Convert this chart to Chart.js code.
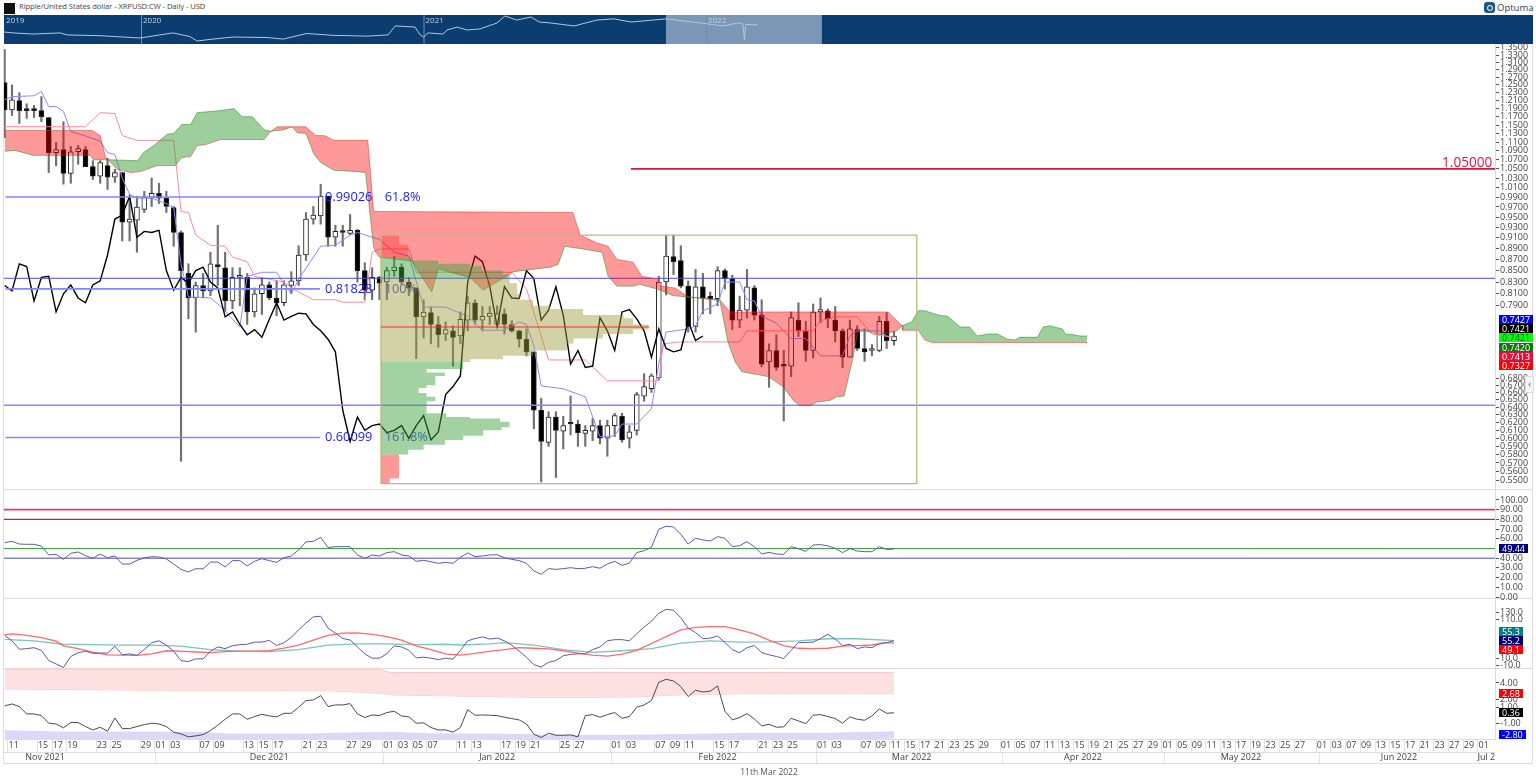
<!DOCTYPE html>
<html>
<head>
<meta charset="utf-8">
<title>XRPUSD</title>
<script src="https://cdn.jsdelivr.net/npm/chart.js@4"></script>
<style>
html, body { margin: 0; padding: 0; background: #fff; width: 1536px; height: 783px; overflow: hidden; font-family: "Open Sans", sans-serif; }
canvas { position: absolute; }
.rule { position: absolute; background: #dedede; }
.tag { position: absolute; left: 1499px; height: 9px; line-height: 9px; font-size: 9px; padding: 0 3px; color: #fff; z-index: 3; }
#title { position: absolute; left: 19px; top: 1px; font-size: 7.6px; letter-spacing: -.05px; line-height: 11px; color: #444; white-space: nowrap; }
#icon { position: absolute; left: 4px; top: 3px; width: 11px; height: 11px; background: #111; }
#logo { position: absolute; left: 1484px; top: 1px; font-size: 9.5px; line-height: 13px; color: #2a3f55; padding-left: 13px; white-space: nowrap; }
#logo i { position: absolute; left: 0; top: 1px; width: 11px; height: 11px; border-radius: 3px; background: #1c5a86; }
#logo i::after { content: ""; position: absolute; left: 3px; top: 3px; width: 4px; height: 4px; border-radius: 50%; border: 1px solid #fff; }
#stamp { position: absolute; left: 669px; width: 200px; top: 766px; text-align: center; font-size: 8.5px; line-height: 11px; color: #555; }
#tab { position: absolute; left: 1525px; top: 376px; width: 7px; height: 15px; border: 1px solid #ddd; background: #f6f6f6; font-size: 9px; line-height: 14px; text-align: center; color: #444; z-index: 3; }
</style>
</head>
<body>
<div id="icon"></div>
<div id="title">Ripple/United States dollar - XRPUSD:CW - Daily - USD</div>
<div id="logo"><i></i>Optuma</div>
<div class="rule" style="left:3px;top:45px;width:1px;height:719px"></div>
<div class="rule" style="left:1532px;top:45px;width:1px;height:719px"></div>
<div class="rule" style="left:3px;top:489px;width:1530px;height:1px"></div>
<div class="rule" style="left:3px;top:598px;width:1530px;height:1px"></div>
<div class="rule" style="left:3px;top:668px;width:1530px;height:1px"></div>
<div class="rule" style="left:3px;top:763px;width:1530px;height:1px"></div>
<canvas id="overview" width="1529" height="29" style="left:4px;top:15px;background:#0b3d70"></canvas>
<canvas id="main" width="1536" height="783" style="left:0;top:0"></canvas>
<div id="stamp">11th Mar 2022</div>
<div id="tab">‹</div>
<div class="tag" style="top:315px;background:#0000ff">0.7427</div>
<div class="tag" style="top:324px;background:#000">0.7421</div>
<div class="tag" style="top:333px;background:#00ff00;color:#063">0.7421</div>
<div class="tag" style="top:343px;background:#0a7a0a">0.7420</div>
<div class="tag" style="top:352px;background:#dc143c">0.7413</div>
<div class="tag" style="top:361px;background:#ff0000">0.7327</div>
<div class="tag" style="top:544px;background:#00007a">49.44</div>
<div class="tag" style="top:627px;background:#008080">55.3</div>
<div class="tag" style="top:636px;background:#00007a">55.2</div>
<div class="tag" style="top:645px;background:#ff0000">49.1</div>
<div class="tag" style="top:689px;background:#ff0000">2.68</div>
<div class="tag" style="top:708px;background:#000">0.36</div>
<div class="tag" style="top:730px;background:#0000ff">-2.80</div>
<script>
// day 0 = 11 Nov 2021, first candle is day -1
const opens = [1.256,1.187,1.21,1.187,1.187,1.185,1.168,1.086,1.093,1.04,1.088,1.093,1.055,1.034,1.057,1.032,1.042,.94,.944,.965,.988,.998,.988,.969,.92,.845,.803,.824,.815,.86,.855,.798,.838,.838,.78,.81,.825,.803,.795,.824,.832,.878,.946,.952,.992,.911,.922,.918,.924,.85,.816,.838,.83,.85,.856,.83,.82,.772,.779,.76,.745,.75,.742,.767,.795,.767,.773,.76,.777,.76,.75,.737,.718,.636,.595,.627,.609,.619,.618,.606,.609,.616,.60,.616,.628,.60,.61,.655,.665,.68,.83,.875,.868,.823,.757,.822,.806,.802,.85,.836,.767,.783,.82,.775,.703,.72,.698,.697,.767,.75,.72,.78,.782,.767,.75,.71,.752,.723,.72,.72,.765,.735];
const highs = [1.345,1.25,1.23,1.202,1.198,1.22,1.168,1.109,1.158,1.10,1.102,1.10,1.068,1.068,1.073,1.049,1.042,.992,.992,1.002,1.03,1.019,1.002,.971,.923,.862,.83,.845,.883,.934,.883,.855,.855,.845,.82,.838,.83,.832,.832,.848,.895,.959,.971,1.017,.992,.934,.934,.955,.926,.864,.855,.84,.856,.875,.862,.838,.82,.80,.788,.773,.764,.758,.78,.806,.80,.789,.789,.79,.785,.766,.751,.753,.718,.652,.634,.634,.628,.655,.623,.616,.625,.623,.623,.632,.632,.616,.66,.686,.686,.84,.915,.915,.895,.832,.852,.845,.813,.857,.853,.842,.806,.852,.824,.80,.73,.744,.72,.78,.795,.765,.793,.803,.785,.789,.753,.767,.758,.753,.729,.773,.779,.749];
const lows = [1.12,1.173,1.154,1.166,1.168,1.158,1.042,1.057,1.017,1.019,1.06,1.055,1.027,1.019,1.006,1.021,.904,.904,.883,.959,.971,.977,.959,.894,.572,.769,.748,.803,.807,.824,.781,.785,.79,.76,.772,.776,.80,.774,.79,.81,.824,.868,.936,.936,.894,.894,.894,.916,.83,.80,.80,.80,.80,.84,.826,.807,.708,.739,.73,.725,.735,.697,.73,.75,.76,.75,.76,.755,.745,.748,.725,.712,.612,.548,.59,.553,.587,.604,.59,.59,.597,.593,.578,.602,.595,.588,.604,.648,.66,.677,.808,.843,.82,.748,.748,.777,.777,.79,.818,.752,.755,.77,.767,.696,.667,.691,.622,.682,.741,.704,.709,.763,.755,.733,.695,.71,.72,.704,.712,.718,.723,.728];
const closes = [1.187,1.212,1.185,1.185,1.185,1.17,1.086,1.093,1.04,1.088,1.095,1.055,1.034,1.064,1.032,1.042,.94,.946,.97,.99,.998,.988,.971,.92,.85,.803,.824,.815,.862,.857,.798,.838,.84,.78,.81,.825,.803,.795,.825,.832,.878,.946,.954,.992,.911,.922,.92,.924,.85,.816,.838,.828,.85,.856,.83,.82,.772,.78,.76,.744,.752,.74,.768,.795,.767,.773,.778,.777,.76,.75,.737,.718,.636,.596,.627,.61,.616,.618,.607,.61,.616,.60,.616,.629,.598,.608,.657,.668,.683,.83,.876,.866,.823,.757,.822,.803,.802,.85,.836,.767,.783,.822,.775,.70,.72,.695,.697,.771,.75,.72,.78,.784,.769,.75,.71,.753,.723,.718,.721,.765,.735,.742];

const tenkanDays = [-1,0,3,4,5,6,7,8,10,12,13,14,15,16,17,19,21,22,23,24,27,28,29,31,32,34,36,37,38,39,42,44,46,47,49,50,52,54,56,59,62,64,67,69,70,71,72,75,78,80,82,83,85,87,88,89,92,93,94,96,97,99,100,101,102,104,106,108,110,113,114,115,118,119,120];
const tenkanVals = [1.212,1.22,1.222,1.233,1.195,1.195,1.183,1.135,1.124,1.112,1.086,1.082,1.03,.996,.988,.988,.977,.969,.862,.805,.803,.793,.781,.756,.84,.847,.847,.827,.81,.835,.894,.896,.915,.92,.911,.907,.883,.876,.788,.788,.773,.751,.751,.764,.76,.727,.669,.665,.654,.602,.603,.618,.618,.638,.70,.748,.753,.758,.782,.793,.83,.83,.80,.798,.773,.762,.738,.738,.712,.712,.742,.75,.75,.742,.74];
const kijunDays = [-1,10,12,14,15,17,22,23,24,25,27,29,30,32,33,37,38,41,44,45,48,49,50,54,55,68,70,71.4,73,78,81,88,88.6,91,99,100,107,109,110,112,115,117,120];
const kijunVals = [1.146,1.146,1.18,1.178,1.125,1.114,1.114,.961,.959,.915,.896,.894,.874,.866,.84,.83,.82,.80,.80,.796,.796,.883,.889,.889,.847,.847,.818,.764,.706,.706,.676,.676,.73,.733,.733,.75,.75,.75,.766,.772,.772,.745,.74];

const spanADays = [-1,.4,2.9,10.6,11.1,13.1,17.1,17.9,19.3,21.1,22,23.1,24.3,25.2,28.4,30.2,31.3,32.7,34.3,35.2,37,38.1,38.8,40,41.1,42,43.8,46.1,48.1,49.2,49.5,50,54.4,57.1,58,62.3,64.1,67.8,68.2,73.2,74.3,75.2,77.7,80.3,81.1,82.3,84.5,85.4,87.8,89.9,96.3,97.4,98.4,99.3,102.9,104.9,106.3,107.2,108.6,109.5,111.3,112.2,113.2,114.4,115.1,116.1,118.1,120.4,121.1,122.4,123.3,124.2,126,127.3,129,130.3,131.3,132.8,134.1,135.4,136.5,137.1,139.5,140.3,141.2,142.9,143.3,144.4,145.3,146.3];
const spanAVals = [1.089,1.091,1.08,1.08,1.07,1.07,1.068,1.086,1.102,1.128,1.13,1.151,1.151,1.18,1.185,1.19,1.17,1.17,1.139,1.135,1.139,1.146,1.132,1.13,1.082,1.064,1.047,1.045,1.042,.892,.883,.874,.867,.813,.853,.838,.816,.844,.848,.856,.861,.894,.889,.883,.84,.823,.823,.826,.818,.807,.799,.733,.703,.689,.682,.668,.649,.642,.642,.647,.649,.654,.655,.708,.75,.75,.744,.75,.758,.764,.782,.782,.775,.773,.756,.756,.742,.745,.745,.737,.736,.74,.74,.756,.758,.753,.745,.744,.742,.742];
const spanBDays = [-1,10.9,12,12.7,13.1,14.3,16.1,17.5,19.7,22.2,23.1,24.3,25.2,26.3,28.4,34.3,35.2,36.1,40,41.3,42.5,43.8,48.4,49.2,76.3,77.3,79.6,81.1,82.3,84.5,85.7,87.8,88.2,90.2,92,96.3,97.7,119.2,120.8,121.1,121.2,123.3,124.2,125.2,146.3];
const spanBVals = [1.137,1.137,1.125,1.077,1.07,1.049,1.042,1.044,1.057,1.057,1.075,1.077,1.102,1.104,1.116,1.116,1.135,1.146,1.146,1.125,1.125,1.114,1.114,.961,.959,.915,.90,.894,.87,.865,.84,.835,.823,.82,.805,.80,.78,.78,.761,.758,.751,.751,.736,.732,.732];

// volume profile, row edges in price and row length in days
const vpLeftDay = 50.2;
const vpYellowPrices = [.836,.828,.81,.80,.79,.785,.775,.77,.76,.752,.745,.738,.73,.72,.712,.707,.703];
const vpYellowLens = [17.5,18.5,18.9,20.7,23,27.5,33,34.3,36.4,34.3,30.2,26.2,25.3,20.7,16.6,12.1];
const vpGreenTopPrices = [.874,.868,.862,.858,.85,.843,.836];
const vpGreenTopLens = [4.2,7.8,12.1,13.7,16.6,17.5];
const vpGreenLowPrices = [.703,.693,.688,.683,.67,.666,.659,.654,.648,.632,.627,.625,.621,.614,.61,.603,.598,.592,.586,.58];
const vpGreenLowLens = [11.2,6.2,8.7,7.4,6.2,5.1,6.2,7.4,6.2,8.9,12.1,16.2,17.5,16.4,13.9,11.2,8.7,5.8,3.7];
const vpRedTopPrices = [.915,.897,.874];
const vpRedTopLens = [2.45,3.72];
const vpRedLowPrices = [.58,.552,.546];
const vpRedLowLens = [2.45,1.2];

const boxRightDay = 123.1;
const boxTop = .915;
const boxBottom = .546;
const pocPrice = .756;
const pocEndDay = 86.7;
const fibPrices = [.99026,.81828,.60099];
const fibPercents = ['61.8%','100%','161.8%'];
const fibEndDay = 41.9;
const thinLevel = .8365;
const thickLevel = .6425;
const targetLevel = 1.05;
const targetStartDay = 84.2;

const rsiValues = [56,57.4,54.6,54.3,54.3,52.6,43.3,44,38.8,45,46.4,42.6,39.9,44.3,40.5,42.3,34,34,37.8,40.2,41.6,41.2,39.2,34,28.5,25.8,29.2,28.9,36,36,31,37.5,37.5,32,36.8,39.5,37.5,35.7,40.5,42.3,48.5,56.7,57.4,61.5,50.9,51.9,51.9,51.9,43.3,39.9,43.3,42.3,45.7,46.7,43.3,42.3,36.8,37.8,36.4,34.7,35.7,34.7,40.9,45.4,41.6,42.3,43.3,43.6,40.5,38.8,37.5,34.7,26.8,23.4,29.2,28.5,29.2,30.2,29.2,29.6,31.3,29.6,34,36.8,32.6,35,45.7,47.8,51.2,69.8,72.9,72.2,64.6,54.6,60.5,58.8,57.7,62.2,60.5,51.9,52.9,57,51.9,44.3,46,44.3,44,51.9,49.8,47,53.6,54,52.6,50.2,45.7,49.8,47.4,46.7,46.7,51.9,49,49.44];
const rsiLevels = [90,80,50,40];

const compValues = [69,55,33,34.6,37,30,3.4,-5.5,-14.5,14,24,28,22,23,23,41,18.5,21,17,32,50,55,43.5,28,3.4,.7,7.8,7.8,28,39,34.6,42,45,46,51.5,51.5,56,42.6,50,64,83.6,101.5,117.5,119,88,75,61,57,39,21,9.6,9.6,21,42,39,30,10.5,12.3,9.6,6,9.6,7,30,55,61,65,59.5,62,55,43.5,28,12.3,-7.3,-13.6,-1,3.4,16,19.4,21,21,32,39,55,58,58,55,73,91,106,127,137,135,115,88,76.5,60.4,62,67.6,50.6,32,24,37,42.6,24,18.5,14,8.7,30,50.6,50.6,51.5,61,72,59.5,42.6,46,34.6,39,37,48,50,55.2];
const compRedDays = [-1,0,2,4,6,7,9,11,13,15,17,19,21,23,25,27,29,31,33,35,37,39,41,43,45,47,49,51,53,55,57,59,61,63,65,67,69,71,73,75,77,79,81,83,85,87,89,91,93,95,97,99,101,103,105,107,109,111,113,115,117,119,120];
const compRedVals = [71,73,69,63,54,42,34.6,25.7,18.5,17.6,17,21,29,28,25.7,24,26.5,28,28,29,36,44,57,69,75,75.6,72,66,57,42,32,21,17.6,22,27.5,32,37,35.5,33.7,29,23,17.6,15,20,30,48,66,83.6,90,92,92,83.6,73,57,42.6,35.5,34.6,35.5,41,42.6,44,50,49.1];
const compTealDays = [-1,3,7,11,15,19,23,27,31,35,39,43,47,51,55,59,61,65,67,71,75,79,83,87,91,95,99,103,107,111,115,120];
const compTealVals = [58.6,55,46,45,43.5,43.5,41,32,28,26.5,32,43.5,47,47,45,46,44,47,50,43.5,32,24.8,29,34.6,49,55,51.5,52.4,55,60.4,60.4,55.3];

const optexValues = [1.2,1.44,1.12,.22,.22,.02,-.91,-1,-1.48,-.83,-.83,-1.32,-1.73,-1.4,-1.89,-.27,-1.57,-1.57,-1.32,-1.08,-.91,-1,-1.32,-2.01,-2.22,-2.58,-2.46,-2.3,-1.81,-1.16,-.43,.22,.22,-.43,-.1,.18,-.02,-.14,.3,.3,1.04,1.85,1.93,2.46,1.12,1.32,1.32,1.48,.22,-.22,.1,.02,.39,.55,-.02,-.14,-.91,-.87,-1.44,-1.73,-1.73,-2.01,-1.44,.75,.06,.1,.06,.02,-.18,-.35,-.51,-1,-2.26,-2.66,-2.13,-2.38,-2.38,-2.34,-2.58,.02,.14,-.18,.14,.39,-.31,-.1,1.04,1.32,1.85,4.08,4.45,4.25,3.56,2.34,3.11,2.9,3,3.64,.55,-.51,-.22,.26,-.39,-1.24,-1.04,-1.4,-1.36,-.31,-.63,-.96,.06,.14,-.1,-.35,-.91,-.14,-.43,-.55,-.02,.83,.3,.36];
const pinkTopDays = [-1,50,51.3,120];
const pinkTopVals = [5.71,5.71,5.3,5.3];
const pinkLowDays = [-1,15,25,35,44,50,52,60,70,80,85,90,100,120];
const pinkLowVals = [3.27,3.15,3.11,3.11,3.03,2.74,2.54,2.42,2.26,2.26,2.3,2.54,2.7,2.68];
const blueTopDays = [-1,7,20,25,30,40,45,52,57,67,75,85,88,100,110,120];
const blueTopVals = [-1.85,-2.01,-2.01,-2.05,-2.26,-2.26,-2.13,-2.05,-2.22,-2.26,-2.42,-2.38,-2.34,-2.17,-2.17,-1.97];
const blueLowDays = [-1,115,120];
const blueLowVals = [-2.83,-2.83,-2.7];

const priceTicks = [1.35,1.33,1.31,1.29,1.27,1.25,1.23,1.21,1.19,1.17,1.15,1.13,1.11,1.09,1.07,1.05,1.03,1.01,.99,.97,.95,.93,.91,.89,.87,.85,.83,.81,.79,.68,.67,.66,.65,.64,.63,.62,.61,.60,.59,.58,.57,.56,.55];
const rsiTicks = [100,90,80,70,60,40,30,20,10,0];
const compTicks = [130,110,10,-10];
const optexTicks = [4,2,1,-1];

const dayTickDays = [0,4,6,8,12,14,18,20,22,26,28,32,34,36,40,42,46,48,51,53,55,57,61,63,67,69,71,75,77,82,84,88,90,92,96,98,102,104,106,110,112,116,118,120,122,124,126,128,130,132,135,137,139,141,143,145,147,149,151,153,155,157,159,161,163,165,167,169,171,173,175,178,180,182,184,186,188,190,192,194,196,198,200];
const dayTickLabels = ['11','15','17','19','23','25','29','01','03','07','09','13','15','17','21','23','27','29','01','03','05','07','11','13','17','19','21','25','27','01','03','07','09','11','15','17','21','23','25','01','03','07','09','11','15','17','21','23','25','29','01','05','07','11','13','15','19','21','25','27','29','01','05','09','11','13','17','19','23','25','27','01','03','07','09','13','15','17','21','23','27','29','01'];
const monthEdgeDays = [19.5,50.5,81.6,109.5,134.7,156.8,177.9,199.6];
const monthMidDays = [4.5,35,66,96,122.4,145.7,167.2,188.7,200.6];
const monthLabels = ['Nov 2021','Dec 2021','Jan 2022','Feb 2022','Mar 2022','Apr 2022','May 2022','Jun 2022','Jul 2'];

// navigator strip along the top, position in years
const ovYears = [2019.515,2019.547,2019.618,2019.713,2019.738,2019.855,2019.996,2020.113,2020.173,2020.198,2020.255,2020.326,2020.446,2020.503,2020.587,2020.68,2020.8,2020.874,2020.9,2020.97,2020.988,2021,2021.016,2021.069,2021.083,2021.119,2021.154,2021.2,2021.26,2021.288,2021.33,2021.38,2021.41,2021.45,2021.533,2021.614,2021.674,2021.735,2021.858,2021.98,2022.06,2022.113,2022.13,2022.136,2022.14,2022.184];
const ovPrices = [.35,.32,.285,.32,.26,.24,.19,.32,.22,.14,.17,.21,.2,.17,.3,.25,.23,.26,.65,.58,.26,.21,.32,.285,.43,.58,.43,.48,.88,1.8,1.19,1.62,.97,.88,.65,1.19,1.34,.97,1.34,.88,.65,.88,.8,.16,.76,.72];
const ovYearTicks = [2020,2021,2022];
const ovYearLabels = ['2020','2021','2022'];
const ovFirstLabel = '2019';
const ovSelection = [2021.858,2022.41];

const toPoints = (xs, ys) => xs.map((x, i) => ({x: x, y: ys[i]}));
const dailyPoints = values => values.map((v, i) => ({x: i - 1, y: v}));
const level = (y, from, to) => [{x: from, y: y}, {x: to, y: y}];
const dayMin = -1.088;
const dayMax = 201.77;

// closed outline for one block of profile rows, starting at the box edge
function profileShape(prices, lens) {
    const pts = [{x: vpLeftDay, y: prices[0]}];
    lens.forEach((len, i) => {
        pts.push({x: vpLeftDay + len, y: prices[i]});
        pts.push({x: vpLeftDay + len, y: prices[i + 1]});
    });
    pts.push({x: vpLeftDay, y: prices[prices.length - 1]});
    return pts;
}

function lineSet(yAxisID, data, color, width, order, extra) {
    return Object.assign({
        type: 'line', yAxisID: yAxisID, data: data, borderColor: color, borderWidth: width,
        pointRadius: 0, tension: 0, fill: false, order: order
    }, extra || {});
}

function shapeSet(data, color) {
    return lineSet('y', data, 'rgba(0,0,0,0)', 0, 1, {fill: 'shape', backgroundColor: color});
}

const redFill = 'rgba(255,0,0,0.4)';
const greenFill = 'rgba(60,160,60,0.5)';
const vpRedFill = 'rgba(255,0,0,0.26)';
const vpGreenFill = 'rgba(60,160,60,0.48)';
const yellowFill = 'rgba(160,155,60,0.46)';
const fibBlue = '#8585ff';

const datasets = [
    {type: 'bar', yAxisID: 'y', order: 9, grouped: false, barThickness: 1.5, backgroundColor: '#707070',
     data: dailyPoints(lows.map((l, i) => [l, highs[i]]))},
    {type: 'bar', yAxisID: 'y', order: 8, grouped: false, barThickness: 5, minBarLength: 2, borderSkipped: false,
     borderWidth: 1, borderColor: '#222',
     backgroundColor: closes.map((c, i) => c >= opens[i] ? '#fff' : '#000'),
     data: dailyPoints(opens.map((o, i) => [o, closes[i]]))},
    lineSet('y', toPoints(kijunDays, kijunVals), '#ff8a9a', 1, 6),
    lineSet('y', toPoints(tenkanDays, tenkanVals), '#8a8aff', 1, 6),
    lineSet('y', dailyPoints(closes.slice(26)), '#000', 1.4, 5),
    lineSet('y', level(fibPrices[0], dayMin + .2, fibEndDay), fibBlue, 1.6, 4),
    lineSet('y', level(fibPrices[1], dayMin + .2, fibEndDay), fibBlue, 1.6, 4),
    lineSet('y', level(fibPrices[2], dayMin + .2, fibEndDay), fibBlue, 1.6, 4),
    lineSet('y', level(thinLevel, dayMin, dayMax), '#4a4ad8', 1, 4),
    lineSet('y', level(thickLevel, dayMin, dayMax), fibBlue, 1.6, 4),
    lineSet('y', level(targetLevel, targetStartDay, dayMax), '#dc143c', 1.6, 4),
    lineSet('y', toPoints(spanADays, spanAVals), 'rgba(40,140,40,0.55)', 1, 3,
        {fill: {target: '+1', above: greenFill, below: redFill}, drawNotes: true}),
    lineSet('y', toPoints(spanBDays, spanBVals), 'rgba(255,50,50,0.55)', 1, 3),
    shapeSet(profileShape(vpYellowPrices, vpYellowLens), yellowFill),
    shapeSet(profileShape(vpGreenTopPrices, vpGreenTopLens), vpGreenFill),
    shapeSet(profileShape(vpGreenLowPrices, vpGreenLowLens), vpGreenFill),
    shapeSet(profileShape(vpRedTopPrices, vpRedTopLens), vpRedFill),
    shapeSet(profileShape(vpRedLowPrices, vpRedLowLens), redFill),
    lineSet('y', level(pocPrice, vpLeftDay, pocEndDay), '#f03030', 1, 0),
    lineSet('y', [{x: vpLeftDay, y: boxTop}, {x: boxRightDay, y: boxTop}, {x: boxRightDay, y: boxBottom}, {x: vpLeftDay, y: boxBottom}, {x: vpLeftDay, y: boxTop}], '#bcb87a', 1.3, 0),

    lineSet('yr', level(rsiLevels[0], dayMin, dayMax), '#e0405f', 1.6, 4),
    lineSet('yr', level(rsiLevels[1], dayMin, dayMax), '#dc143c', 1.3, 4),
    lineSet('yr', level(rsiLevels[2], dayMin, dayMax), '#3da83d', 1.2, 4),
    lineSet('yr', level(rsiLevels[3], dayMin, dayMax), '#4a4ab0', 1, 4),
    lineSet('yr', dailyPoints(rsiValues), '#5a5ab0', 1, 3),

    lineSet('yc', toPoints(compTealDays, compTealVals), '#7cc4bc', 1.3, 4),
    lineSet('yc', toPoints(compRedDays, compRedVals), '#ff6a6a', 1.3, 3),
    lineSet('yc', dailyPoints(compValues), '#5a5ab0', 1, 2),

    lineSet('yo', toPoints(pinkTopDays, pinkTopVals), '#fbc4c4', 1, 4, {fill: {target: '+1', above: '#fde0e0', below: '#fde0e0'}}),
    lineSet('yo', toPoints(pinkLowDays, pinkLowVals), '#fbc4c4', 1, 4),
    lineSet('yo', toPoints(blueTopDays, blueTopVals), '#d4d4fb', 1, 4, {fill: {target: '+1', above: '#d9d9fc', below: '#d9d9fc'}}),
    lineSet('yo', toPoints(blueLowDays, blueLowVals), '#d4d4fb', 1, 4),
    lineSet('yo', dailyPoints(optexValues), '#4a4a4a', 1, 2)
];

const notesPlugin = {
    id: 'notes',
    afterDatasetDraw(chart, args) {
        if (!chart.data.datasets[args.index].drawNotes) return;
        const c = chart.ctx;
        const xs = chart.scales.x;
        const ys = chart.scales.y;
        c.save();
        c.font = '12.8px "Open Sans"';
        c.textBaseline = 'middle';
        fibPrices.forEach((p, i) => {
            c.fillStyle = '#1a1aff';
            c.fillText(p.toFixed(5), xs.getPixelForValue(42.6), ys.getPixelForValue(p));
            c.fillStyle = i === 0 ? '#1a1aff' : '#3a45d8';
            c.fillText(fibPercents[i], xs.getPixelForValue(50.7), ys.getPixelForValue(p));
        });
        c.fillStyle = '#dc143c';
        c.font = '13.6px "Open Sans"';
        c.textAlign = 'right';
        c.textBaseline = 'bottom';
        c.fillText(targetLevel.toFixed(5), xs.getPixelForValue(201.4), ys.getPixelForValue(targetLevel) + 1);
        c.restore();
    }
};

const axisFont = {family: '"Open Sans"', size: 9};

function panelAxis(ticks, weight, min, max, fmt, order) {
    return {
        type: 'linear', position: 'right', stack: 'panels', stackWeight: weight, weight: order, min: min, max: max,
        afterBuildTicks: s => { s.ticks = ticks.map(v => ({value: v})); },
        afterFit: s => { s.width = 38; },
        grid: {drawOnChartArea: false, tickLength: 4, tickColor: '#555'},
        border: {color: '#ddd'},
        ticks: {autoSkip: false, padding: 1, color: '#444', font: axisFont, callback: fmt}
    };
}

new Chart(document.getElementById('main'), {
    type: 'line',
    data: {datasets: datasets},
    plugins: [notesPlugin],
    options: {
        responsive: false,
        animation: false,
        devicePixelRatio: 1,
        layout: {padding: {top: 45, bottom: 20, left: 4, right: 3}},
        plugins: {legend: {display: false}, tooltip: {enabled: false}},
        scales: {
            x: {
                type: 'linear', position: 'bottom', offset: false, min: dayMin, max: dayMax, weight: 0,
                afterBuildTicks: s => { s.ticks = dayTickDays.map(d => ({value: d - .55})); },
                afterFit: s => { s.height = 13; },
                grid: {drawOnChartArea: false, offset: false, tickLength: 13, color: '#e2e2e2'},
                border: {color: '#ddd'},
                ticks: {
                    autoSkip: false, maxRotation: 0, minRotation: 0, padding: -12, labelOffset: 5.7,
                    color: '#444', font: axisFont,
                    callback: (v, i) => dayTickLabels[i]
                }
            },
            xm: {
                type: 'linear', axis: 'x', position: 'bottom', offset: false, min: dayMin, max: dayMax, weight: 1,
                afterBuildTicks: s => {
                    s.ticks = monthEdgeDays.concat(monthMidDays).sort((a, b) => a - b).map(d => ({value: d}));
                },
                afterFit: s => { s.height = 11; },
                grid: {
                    drawOnChartArea: false, offset: false, tickLength: 11, color: '#e2e2e2',
                    lineWidth: ctx => monthEdgeDays.includes(ctx.tick.value) ? 1 : 0
                },
                border: {color: '#ddd'},
                ticks: {
                    autoSkip: false, maxRotation: 0, minRotation: 0, padding: -11,
                    color: '#444', font: axisFont,
                    callback: v => {
                        const k = monthMidDays.indexOf(v);
                        return k < 0 ? '' : monthLabels[k];
                    }
                }
            },
            y: Object.assign(panelAxis(priceTicks, 444, .5418, 1.358, v => v.toFixed(4), 0), {type: 'logarithmic'}),
            yr: panelAxis(rsiTicks, 109, -1.03, 111.3, v => v.toFixed(2), 1),
            yc: panelAxis(compTicks, 70, -16, 166.7, v => v.toFixed(1), 2),
            yo: panelAxis(optexTicks, 71, -2.84, 5.83, v => v.toFixed(2), 3)
        }
    }
});

const overviewPlugin = {
    id: 'overviewMarks',
    beforeDatasetsDraw(chart) {
        const c = chart.ctx;
        const xs = chart.scales.x;
        const area = chart.chartArea;
        c.save();
        c.fillStyle = '#7b97b7';
        c.fillRect(xs.getPixelForValue(ovSelection[0]), area.top, xs.getPixelForValue(ovSelection[1]) - xs.getPixelForValue(ovSelection[0]), area.bottom - area.top);
        c.strokeStyle = '#6f8fb3';
        c.fillStyle = '#c3d0de';
        c.font = '8px "Open Sans"';
        c.textBaseline = 'top';
        c.fillText(ovFirstLabel, 2, 2);
        ovYearTicks.forEach((y, i) => {
            const px = xs.getPixelForValue(y);
            c.beginPath();
            c.moveTo(px + .5, area.top);
            c.lineTo(px + .5, area.bottom);
            c.stroke();
            c.fillText(ovYearLabels[i], px + 2, 2);
        });
        c.restore();
    }
};

new Chart(document.getElementById('overview'), {
    type: 'line',
    data: {datasets: [{data: toPoints(ovYears, ovPrices), borderColor: '#b4c6da', borderWidth: 1, pointRadius: 0, tension: 0}]},
    plugins: [overviewPlugin],
    options: {
        responsive: false,
        animation: false,
        devicePixelRatio: 1,
        plugins: {legend: {display: false}, tooltip: {enabled: false}},
        scales: {
            x: {type: 'linear', display: false, min: 2019.515, max: 2024.927},
            y: {type: 'logarithmic', display: false, min: .103, max: 1.99}
        }
    }
});
</script>
</body>
</html>
